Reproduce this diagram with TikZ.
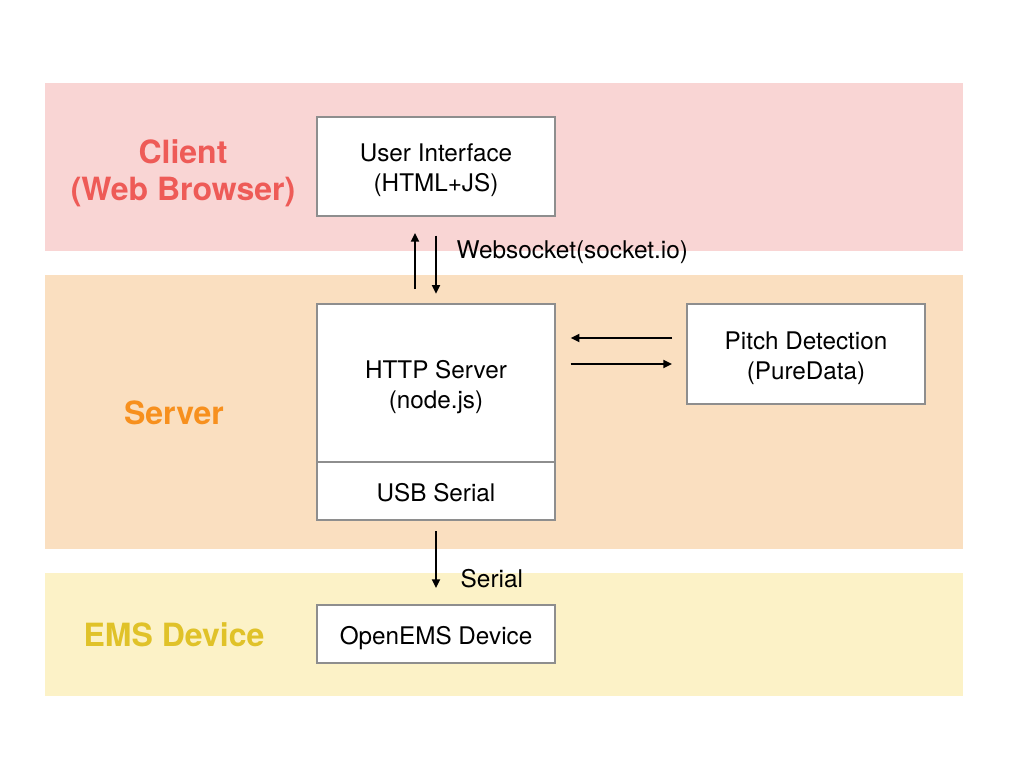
\documentclass[tikz,border=0pt]{standalone}
\usepackage{fontspec}
\setmainfont{TeX Gyre Heros}
\usetikzlibrary{arrows.meta}
\definecolor{clientbg}{HTML}{F9D5D4}
\definecolor{clienttx}{HTML}{EE5B57}
\definecolor{serverbg}{HTML}{FADFC0}
\definecolor{servertx}{HTML}{F7901E}
\definecolor{emsbg}{HTML}{FCF2C7}
\definecolor{emstx}{HTML}{E0C229}
\definecolor{boxline}{HTML}{8E8E8E}
\tikzset{
  boxnode/.style={draw=boxline, line width=1.5pt, fill=white,
    minimum width=178.5pt, inner sep=0pt},
  boxtext/.style={align=center, inner sep=0pt, yshift=-3pt,
    font=\fontsize{18.2}{22.5}\selectfont},
  layertitle/.style={font=\fontsize{24}{28}\selectfont\bfseries, align=center, text=#1},
  lbl/.style={font=\fontsize{18.3}{20}\selectfont, anchor=west},
  arr/.style={line width=1.4pt, -{Triangle[length=6.5pt,width=6pt]}},
}
\begin{document}
\begin{tikzpicture}[x=0.75pt,y=-0.75pt]
\useasboundingbox (0,0) rectangle (1024,768);
% bands
\fill[clientbg] (45,83) rectangle (963,251);
\fill[serverbg] (45,275) rectangle (963,549);
\fill[emsbg] (45,573) rectangle (963,696);
% layer titles
\node[layertitle=clienttx] (tclient) at (183,173.5) {Client\\(Web Browser)};
\node[layertitle=servertx] (tserver) at (174,413) {Server};
\node[layertitle=emstx] (tems) at (174,635) {EMS Device};
% boxes
\node[boxnode, minimum height=74.25pt, label={[boxtext]center:User Interface\\(HTML+JS)}] (ui) at (436,166.5) {};
\node[boxnode, minimum height=118.5pt, label={[boxtext]center:HTTP Server\\(node.js)}] (http) at (436,383) {};
\node[boxnode, minimum height=43.5pt, label={[boxtext, yshift=1.5pt]center:USB Serial}] (usb) at (436,491) {};
\node[boxnode, minimum height=75pt, label={[boxtext]center:Pitch Detection\\(PureData)}] (pitch) at (806,354) {};
\node[boxnode, minimum height=43.5pt, label={[boxtext]center:OpenEMS Device}] (ems) at (436,634) {};
% helper coordinates
\coordinate (xa) at (415,0);
\coordinate (xb) at (436,0);
\coordinate (ya) at (0,338);
\coordinate (yb) at (0,364);
% arrows
\draw[arr, shorten <=10.5pt, shorten >=12pt] (http.north -| xa) -- (ui.south -| xa);
\draw[arr, shorten <=14pt, shorten >=7pt] (ui.south -| xb) -- (http.north -| xb);
\draw[arr, shorten <=10.5pt, shorten >=11pt] (pitch.west |- ya) -- (http.east |- ya);
\draw[arr, shorten <=11pt, shorten >=10.5pt] (http.east |- yb) -- (pitch.west |- yb);
\draw[arr, shorten <=7.5pt, shorten >=12pt] (usb.south) -- (ems.north);
% labels
\node[lbl] (lws) at (452,252.5) {Websocket(socket.io)};
\node[lbl] (lser) at (456,578.5) {Serial};
\end{tikzpicture}
\end{document}
